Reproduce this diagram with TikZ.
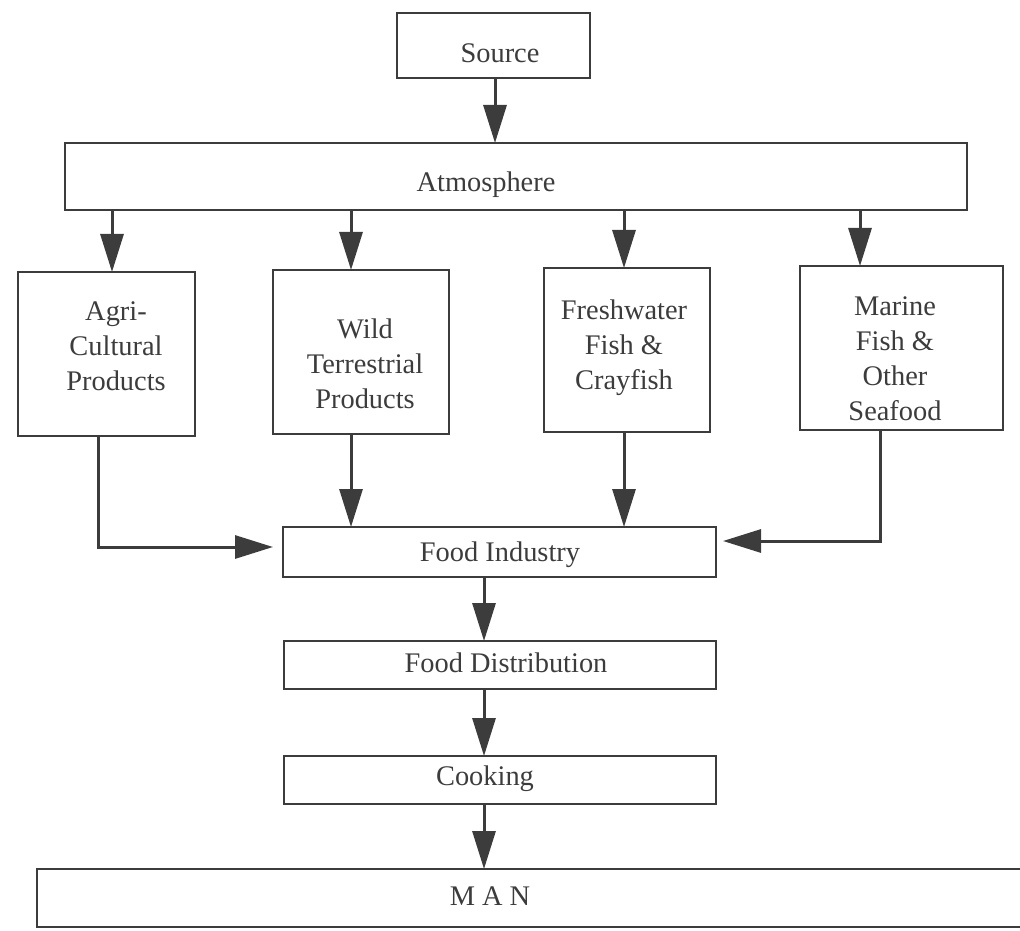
\documentclass[tikz,border=0pt]{standalone}
\usepackage{fontspec}
\setmainfont{Liberation Serif}
\usetikzlibrary{arrows.meta}
\definecolor{ink}{HTML}{3C3C3C}
\begin{document}
\begin{tikzpicture}[x=0.5pt,y=-0.5pt,
  box/.style={draw=ink, line width=1pt, inner sep=0pt, outer sep=0pt},
  txt/.style={text=ink, inner sep=0pt, align=center, font=\fontsize{14.2}{17.5}\selectfont},
  arr/.style={draw=ink, line width=1.5pt, -{Triangle[length=19pt,width=11.5pt]}}]
\useasboundingbox (0,0) rectangle (1020,930);

% boxes
\node[box, minimum width=96.5pt, minimum height=32.5pt] (src) at (493.5,45.5) {};
\node[box, minimum width=451pt, minimum height=33.5pt] (atm) at (516,176.5) {};
\node[box, minimum width=88.5pt, minimum height=82pt] (agri) at (106.5,354) {};
\node[box, minimum width=88pt, minimum height=82pt] (wild) at (361,352) {};
\node[box, minimum width=83pt, minimum height=82pt] (fresh) at (627,350) {};
\node[box, minimum width=101.5pt, minimum height=82pt] (marine) at (901.5,348) {};
\node[box, minimum width=216.5pt, minimum height=25pt] (fi) at (499.5,552) {};
\node[box, minimum width=216pt, minimum height=24pt] (fd) at (500,665) {};
\node[box, minimum width=216pt, minimum height=24pt] (cook) at (500,780) {};
\node[box, minimum width=494.5pt, minimum height=29pt] (man) at (531.5,898) {};

% texts
\node[txt] (tsrc) at (500,53) {Source};
\node[txt] (tatm) at (486,185) {Atmosphere};
\node[txt] (tagri) at (116,346.5) {Agri-\\Cultural\\Products};
\node[txt] (twild) at (365,363.5) {Wild\\Terrestrial\\Products};
\node[txt] (tfresh) at (624,347.5) {Freshwater\\Fish \&\\Crayfish};
\node[txt] (tmar) at (895,359) {Marine\\Fish \&\\Other\\Seafood};
\node[txt] (tfi) at (500,555) {Food Industry};
\node[txt] (tfd) at (506,663) {Food Distribution};
\node[txt] (tcook) at (485,779) {Cooking};
\node[txt] (tman) at (490,896) {M A N};

% connector positions
\coordinate (xSrc) at (495,0);
\coordinate (xA) at (112,0);
\coordinate (xW) at (351,0);
\coordinate (xF) at (624,0);
\coordinate (xM) at (860,0);
\coordinate (xAg) at (98,0);
\coordinate (xMr) at (880,0);
\coordinate (xC) at (484,0);
\coordinate (inL) at (273,547);
\coordinate (inR) at (723,541);

% connectors
\draw[arr] (src.south -| xSrc) -- (atm.north -| xSrc);
\draw[arr] (atm.south -| xA) -- (agri.north -| xA);
\draw[arr] (atm.south -| xW) -- (wild.north -| xW);
\draw[arr] (atm.south -| xF) -- (fresh.north -| xF);
\draw[arr] (atm.south -| xM) -- (marine.north -| xM);
\draw[arr] (agri.south -| xAg) |- (inL);
\draw[arr] (wild.south -| xW) -- (fi.north -| xW);
\draw[arr] (fresh.south -| xF) -- (fi.north -| xF);
\draw[arr] (marine.south -| xMr) |- (inR);
\draw[arr] (fi.south -| xC) -- (fd.north -| xC);
\draw[arr] (fd.south -| xC) -- (cook.north -| xC);
\draw[arr] (cook.south -| xC) -- (man.north -| xC);
\end{tikzpicture}
\end{document}
